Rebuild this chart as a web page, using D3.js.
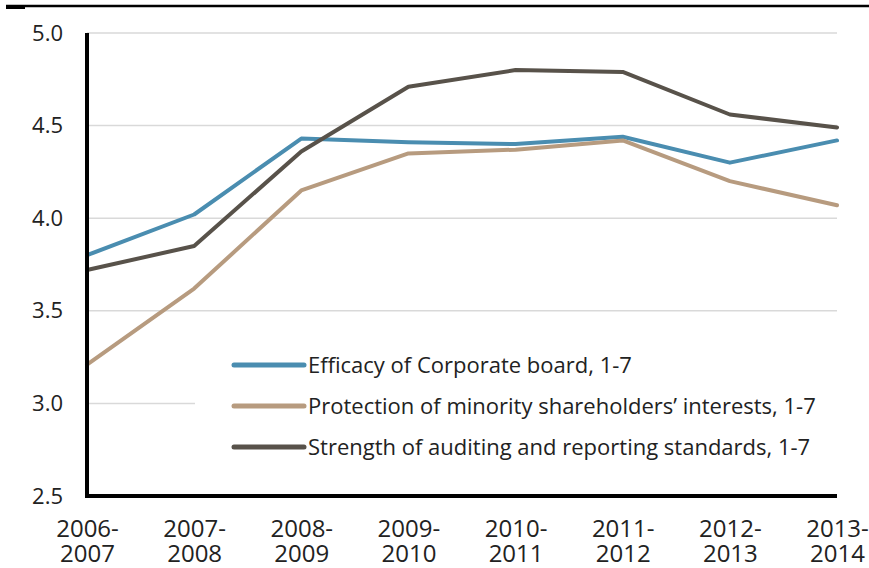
<!DOCTYPE html>
<html>
<head>
<meta charset="utf-8">
<script src="https://cdn.jsdelivr.net/npm/d3@7"></script>
<style>
  body { margin: 0; background: #fff; }
  text { font-family: "Open Sans", sans-serif; fill: #222; }
</style>
</head>
<body>
<svg id="svg1" width="869" height="568"></svg>
<script>
// data
var years = ["2006-2007", "2007-2008", "2008-2009", "2009-2010", "2010-2011", "2011-2012", "2012-2013", "2013-2014"];
var efficacy = [3.80, 4.02, 4.43, 4.41, 4.40, 4.44, 4.30, 4.42];
var protection = [3.21, 3.62, 4.15, 4.35, 4.37, 4.42, 4.20, 4.07];
var strength = [3.72, 3.85, 4.36, 4.71, 4.80, 4.79, 4.56, 4.49];
var yTicks = [2.5, 3.0, 3.5, 4.0, 4.5, 5.0];
var seriesNames = [
    "Efficacy of Corporate board, 1-7",
    "Protection of minority shareholders\u2019 interests, 1-7",
    "Strength of auditing and reporting standards, 1-7"
];

var colors = ["#4a8db0", "#b79b7f", "#58524a"];
var series = [efficacy, protection, strength].map(function (vals, i) {
    return { name: seriesNames[i], color: colors[i], values: vals };
});

var svg = d3.select("#svg1"),
    margin = { top: 33, right: 32, bottom: 72, left: 87 },
    width = +svg.attr("width") - margin.left - margin.right,
    height = +svg.attr("height") - margin.top - margin.bottom,
    g = svg.append("g").attr("transform", "translate(" + margin.left + "," + margin.top + ")");

// rule across the top of the page
svg.append("line")
    .attr("x1", 6).attr("x2", 869).attr("y1", 6).attr("y2", 6)
    .attr("stroke", "#000").attr("stroke-width", 2.5);
svg.append("rect")
    .attr("x", 6).attr("y", 5).attr("width", 19).attr("height", 4)
    .attr("fill", "#000");

var x = d3.scalePoint()
    .domain(years)
    .range([0, width]);

var y = d3.scaleLinear()
    .domain([2.5, 5.0])
    .range([height, 0]);

// gridlines
g.append("g")
    .selectAll("line")
    .data(yTicks.slice(1))
    .enter().append("line")
    .attr("x1", 0).attr("x2", width)
    .attr("y1", function (d) { return y(d); })
    .attr("y2", function (d) { return y(d); })
    .attr("stroke", "#d9d9d9").attr("stroke-width", 1.5);

// y axis labels
var yAxis = g.append("g")
    .call(d3.axisLeft(y).tickValues(yTicks).tickSize(0).tickPadding(24)
        .tickFormat(d3.format(".1f")));
yAxis.select(".domain").remove();
yAxis.selectAll("text")
    .style("font-family", '"Open Sans", sans-serif')
    .style("font-size", "22px")
    .attr("fill", "#222");

// x axis labels, two lines each
var xAxis = g.append("g")
    .attr("transform", "translate(0," + height + ")")
    .call(d3.axisBottom(x).tickSize(0).tickPadding(0));
xAxis.select(".domain").remove();
xAxis.selectAll("text")
    .style("font-family", '"Open Sans", sans-serif')
    .style("font-size", "24px")
    .attr("fill", "#222")
    .attr("y", 0).attr("dy", null)
    .each(function (d) {
        var parts = d.split("-");
        var t = d3.select(this).text(null);
        t.append("tspan").attr("x", 0).attr("y", 41).text(parts[0] + "-");
        t.append("tspan").attr("x", 0).attr("y", 66).text(parts[1]);
    });

// legend background hides the gridline behind it
var legend = g.append("g");
legend.append("rect")
    .attr("x", 108).attr("y", 302).attr("width", 645).attr("height", 130)
    .attr("fill", "#fff");

// lines
var line = d3.line()
    .x(function (d, i) { return x(years[i]); })
    .y(function (d) { return y(d); });

g.selectAll(".series")
    .data(series)
    .enter().append("path")
    .attr("class", "series")
    .attr("fill", "none")
    .attr("stroke", function (d) { return d.color; })
    .attr("stroke-width", 4)
    .attr("stroke-linejoin", "round")
    .attr("stroke-linecap", "round")
    .attr("d", function (d) { return line(d.values); });

// axis lines
g.append("line")
    .attr("x1", 0).attr("x2", 0).attr("y1", 0).attr("y2", height + 2)
    .attr("stroke", "#000").attr("stroke-width", 4);
g.append("line")
    .attr("x1", -2).attr("x2", width).attr("y1", height).attr("y2", height)
    .attr("stroke", "#000").attr("stroke-width", 4);

// legend entries
var rows = legend.selectAll(".row")
    .data(series)
    .enter().append("g")
    .attr("class", "row")
    .attr("transform", function (d, i) { return "translate(147," + (332 + i * 41) + ")"; });
rows.append("line")
    .attr("x1", 0).attr("x2", 70)
    .attr("stroke", function (d) { return d.color; })
    .attr("stroke-width", 5)
    .attr("stroke-linecap", "round");
rows.append("text")
    .attr("x", 74)
    .attr("dy", "0.35em")
    .style("font-size", "22px")
    .text(function (d) { return d.name; });
</script>
</body>
</html>
